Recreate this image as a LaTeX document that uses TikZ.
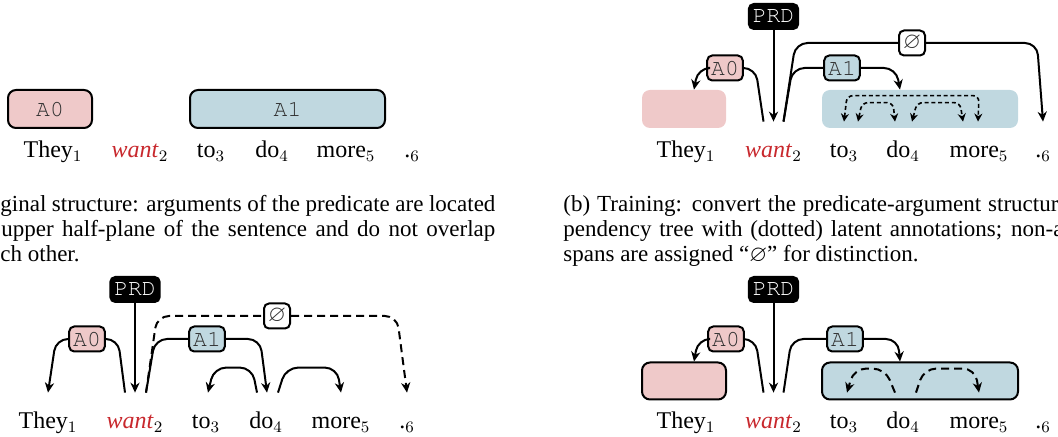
\documentclass[tikz,border=0pt]{standalone}
\usepackage{fontspec}
\setmainfont{Liberation Serif}
\usepackage{amssymb}
\usepackage{xcolor}
\usepackage{tikz}
\usetikzlibrary{calc,arrows.meta}
\definecolor{argzero}{HTML}{EFC9C9}
\definecolor{argone}{HTML}{C0D8E0}
\definecolor{prdred}{HTML}{C8282D}
\definecolor{lbltext}{HTML}{303030}
\newcommand{\lblfont}{\fontencoding{T1}\fontfamily{pcr}\fontsize{11.5}{11.5}\selectfont}
\tikzset{
  word/.style={anchor=base, font=\fontsize{12}{14}\selectfont, text height=18pt, inner sep=0pt},
  captext/.style={anchor=base west, font=\fontsize{11.5}{12.5}\selectfont, inner sep=0pt},
  spanbox/.style={rounded corners=4pt, minimum height=19pt, inner sep=0pt},
  lbl/.style={draw, line width=1pt, rounded corners=2.5pt, font=\lblfont, text=lbltext, inner xsep=2pt, inner ysep=0pt, minimum height=12.5pt},
  prd/.style={lbl, fill=black, text=white},
  link/.style={line width=1pt, rounded corners=6pt, -{Stealth[length=5pt,width=4.6pt]}},
  latent/.style={line width=0.8pt, rounded corners=3pt, dash pattern=on 2pt off 1.4pt, {Stealth[length=4pt,width=4pt]}-{Stealth[length=4pt,width=4pt]}},
  faint/.style={dash pattern=on 4pt off 2.5pt}
}

\begin{document}
\begin{tikzpicture}[x=0.5pt, y=-0.5pt]
\useasboundingbox (0,0) rectangle (1058,437);
\clip (0,0) rectangle (1058,437);

% (a) original structure
\node[spanbox, draw, line width=1pt, fill=argzero, minimum width=42pt, font=\lblfont, text=lbltext] (aA0) at (50,109) {A0};
\node[spanbox, draw, line width=1pt, fill=argone, minimum width=97.5pt, font=\lblfont, text=lbltext] (aA1) at (287.5,109) {A1};
\node[word] (a1) at (53,158) {They$_1$};
\node[word] (a2) at (140,158) {\textcolor{prdred}{\textit{want}}$_2$};
\node[word] (a3) at (211,158) {to$_3$};
\node[word] (a4) at (272,158) {do$_4$};
\node[word] (a5) at (346,158) {more$_5$};
\node[word] (a6) at (412,158) {.$_6$};
\node[captext] (acap1) at (0,212) {\makebox[247.5pt][s]{ginal structure: arguments of the predicate are located}};
\node[captext] (acap2) at (1,237) {\makebox[247pt][s]{upper half-plane of the sentence and do not overlap}};
\node[captext] (acap3) at (0,262) {ch other.};

% (b) training
\node[prd] (bPRD) at (773.5,16.5) {PRD};
\node[spanbox, fill=argzero, minimum width=42pt] (bspanA0) at (684,109) {};
\node[spanbox, fill=argone, minimum width=98pt] (bspanA1) at (920,109) {};
\node[word] (b1) at (686,158) {They$_1$};
\node[word] (b2) at (773.5,158) {\textcolor{prdred}{\textit{want}}$_2$};
\node[word] (b3) at (844,158) {to$_3$};
\node[word] (b4) at (903,158) {do$_4$};
\node[word] (b5) at (979,158) {more$_5$};
\node[word] (b6) at (1043,158) {.$_6$};
\node[lbl, fill=argzero] (bA0) at (725,68) {A0};
\node[lbl, fill=argone] (bA1) at (842,68) {A1};
\node[lbl, fill=white, minimum width=13pt, inner xsep=1pt] (bNull) at (912,43) {$\varnothing$};
\draw[link] (bPRD) -- (b2.north);
\draw[link] ([xshift=-5pt]b2.north) -- ($(b2.north |- bA0)+(-9pt,0)$) -- (bA0) -- ($(bspanA0.north |- bA0)+(7pt,0)$) -- ([xshift=5pt]bspanA0.north);
\draw[link] ([xshift=5pt]b2.north) -- ($(b2.north |- bA1)+(9.5pt,0)$) -- (bA1) -- ($(bspanA1.north |- bA1)+(-12pt,0)$) -- ([xshift=-10pt]bspanA1.north);
\draw[link] ([xshift=5pt]b2.north) -- ($(b2.north |- bNull)+(11pt,0)$) -- (bNull) -- ($(b6.north |- bNull)+(-3pt,0)$) -- (b6.north);
% latent arcs
\draw[latent] (b3.north) -- ($(b3.north)+(1.5pt,13pt)$) -- ($(b5.north)+(0pt,13pt)$) -- ([xshift=-0.5pt]b5.north);
\draw[latent] ([xshift=7pt]b3.north) -- ($(b3.north)+(9pt,9.5pt)$) -- ($(b4.north)+(-5pt,9.5pt)$) -- ([xshift=-4pt]b4.north);
\draw[latent] ([xshift=4.5pt]b4.north) -- ($(b4.north)+(7pt,9.5pt)$) -- ($(b5.north)+(-9.5pt,9.5pt)$) -- ([xshift=-8pt]b5.north);
\node[captext] (bcap1) at (563,212) {\makebox[247.5pt][s]{(b) Training: convert the predicate-argument structur}};
\node[captext] (bcap2) at (563,237) {\makebox[250pt][s]{pendency tree with (dotted) latent annotations; non-a}};
\node[captext] (bcap3) at (563,262) {spans are assigned ``$\varnothing$'' for distinction.};

% (c) dependency tree
\node[prd] (cPRD) at (135,289.5) {PRD};
\node[word] (c1) at (48,429) {They$_1$};
\node[word] (c2) at (135,429) {\textcolor{prdred}{\textit{want}}$_2$};
\node[word] (c3) at (206,429) {to$_3$};
\node[word] (c4) at (266,429) {do$_4$};
\node[word] (c5) at (341,429) {more$_5$};
\node[word] (c6) at (407,429) {.$_6$};
\node[lbl, fill=argzero] (cA0) at (87,339) {A0};
\node[lbl, fill=argone] (cA1) at (207,339) {A1};
\node[lbl, fill=white, minimum width=13pt, inner xsep=1pt] (cNull) at (277,316) {$\varnothing$};
\draw[link] (cPRD) -- (c2.north);
\draw[link] ([xshift=-5pt]c2.north) -- ($(c2.north |- cA0)+(-8.5pt,0)$) -- (cA0) -- ($(c1.north |- cA0)+(4pt,0)$) -- (c1.north);
\draw[link] ([xshift=5.5pt]c2.north) -- ($(c2.north |- cA1)+(10pt,0)$) -- (cA1) -- ($(c4.north |- cA1)+(-3pt,0)$) -- ([xshift=0.5pt]c4.north);
\draw[link, faint] ([xshift=5.5pt]c2.north) -- ($(c2.north |- cNull)+(11pt,0)$) -- (cNull) -- ($(c6.north |- cNull)+(-5pt,0)$) -- (c6.north);
\draw[link] ([xshift=-4.5pt]c4.north) -- ($(c4.north)+(-7pt,12.5pt)$) -- ($(c3.north)+(4pt,12.5pt)$) -- ([xshift=1pt]c3.north);
\draw[link] ([xshift=6pt]c4.north) -- ($(c4.north)+(10pt,12.5pt)$) -- ($(c5.north)+(-2pt,12.5pt)$) -- (c5.north);

% (d) decoding
\node[prd] (dPRD) at (773.5,289.5) {PRD};
\node[spanbox, draw, line width=1pt, fill=argzero, minimum width=42pt, minimum height=18.5pt] (dspanA0) at (684,381) {};
\node[spanbox, draw, line width=1pt, fill=argone, minimum width=98pt, minimum height=18.5pt] (dspanA1) at (920,381) {};
\node[word] (d1) at (686,429) {They$_1$};
\node[word] (d2) at (773.5,429) {\textcolor{prdred}{\textit{want}}$_2$};
\node[word] (d3) at (844,429) {to$_3$};
\node[word] (d4) at (903,429) {do$_4$};
\node[word] (d5) at (979,429) {more$_5$};
\node[word] (d6) at (1043,429) {.$_6$};
\node[lbl, fill=argzero] (dA0) at (726,339) {A0};
\node[lbl, fill=argone] (dA1) at (845,339) {A1};
\draw[link] (dPRD) -- (d2.north);
\draw[link] ([xshift=-5pt]d2.north) -- ($(d2.north |- dA0)+(-9pt,0)$) -- (dA0) -- ($(dspanA0.north |- dA0)+(7pt,0)$) -- ([xshift=5pt]dspanA0.north);
\draw[link] ([xshift=5pt]d2.north) -- ($(d2.north |- dA1)+(9pt,0)$) -- (dA1) -- ($(dspanA1.north |- dA1)+(-11pt,0)$) -- ([xshift=-10pt]dspanA1.north);
\draw[link, faint] ([xshift=-4pt]d4.north) -- ($(d4.north)+(-9pt,12pt)$) -- ($(d3.north)+(5pt,12pt)$) -- ([xshift=1.5pt]d3.north);
\draw[link, faint] ([xshift=6.5pt]d4.north) -- ($(d4.north)+(10.5pt,12pt)$) -- ($(d5.north)+(-2pt,12pt)$) -- (d5.north);
\end{tikzpicture}
\end{document}
